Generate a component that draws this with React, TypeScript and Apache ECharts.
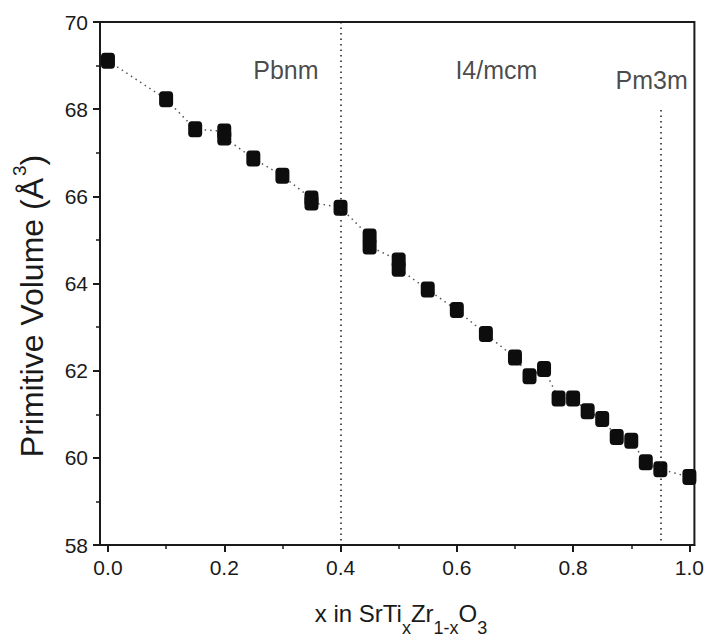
import React, { useEffect, useRef } from "react";
import * as echarts from "echarts";

// x in SrTi_xZr_(1-x)O_3
const compositions = [
  0, 0.1, 0.15, 0.2, 0.2, 0.25, 0.3, 0.35, 0.35, 0.4, 0.45, 0.45, 0.5, 0.5,
  0.55, 0.6, 0.65, 0.7, 0.725, 0.75, 0.775, 0.8, 0.825, 0.85, 0.875, 0.9,
  0.925, 0.95, 1.0,
];
// Primitive volume (Å^3)
const volumes = [
  69.11, 68.23, 67.54, 67.49, 67.35, 66.87, 66.47, 65.95, 65.86, 65.74, 65.08,
  64.85, 64.53, 64.34, 63.86, 63.39, 62.84, 62.3, 61.87, 62.04, 61.36, 61.36,
  61.07, 60.89, 60.48, 60.39, 59.9, 59.74, 59.56,
];

const xTickValues = [0, 0.2, 0.4, 0.6, 0.8, 1.0];
const xMinorTickValues = [0.1, 0.3, 0.5, 0.7, 0.9];

const phaseBoundaryX = [0.4, 0.95];
const phaseBoundaryTop = [70, 67.98];

const phaseNames = ["Pbnm", "I4/mcm", "Pm3m"];
const phaseLabelX = [0.306, 0.668, 0.935];
const phaseLabelY = [68.9, 68.9, 68.67];

const FONT = "'Liberation Sans', Arial, Helvetica, sans-serif";
const INK = "#1a1a1a";

export default function App() {
  const ref = useRef<HTMLDivElement>(null);

  useEffect(() => {
    if (!ref.current) return;
    const chart = echarts.init(ref.current, null, { renderer: "svg" });

    const points = compositions.map((x, i) => [x, volumes[i]]);
    const labelData = phaseNames.map((n, i) => ({
      name: n,
      value: [phaseLabelX[i], phaseLabelY[i]],
    }));
    const boundaryLines = phaseBoundaryX.map((x, i) => [
      { coord: [x, phaseBoundaryTop[i]] },
      { coord: [x, 58] },
    ]);

    const xMin = -0.0137;
    const xMax = 1.0086;

    chart.setOption({
      animation: false,
      backgroundColor: "#ffffff",
      grid: {
        left: 100,
        top: 22,
        width: 597,
        height: 523,
        show: true,
        borderColor: INK,
        borderWidth: 2,
        backgroundColor: "transparent",
      },
      xAxis: [
        {
          type: "value",
          min: xMin,
          max: xMax,
          position: "bottom",
          axisLine: { show: true, onZero: false, lineStyle: { color: INK, width: 2 } },
          axisTick: {
            show: true,
            customValues: xTickValues,
            length: 7,
            lineStyle: { color: INK, width: 2 },
          },
          axisLabel: {
            show: true,
            customValues: xTickValues,
            formatter: (v: number) => v.toFixed(1),
            fontSize: 21,
            fontFamily: FONT,
            color: INK,
            margin: 12,
          },
          splitLine: { show: false },
        },
        {
          type: "value",
          min: xMin,
          max: xMax,
          position: "bottom",
          axisLine: { show: false, onZero: false },
          axisTick: {
            show: true,
            customValues: xMinorTickValues,
            length: 4,
            lineStyle: { color: INK, width: 1.5 },
          },
          axisLabel: { show: false, customValues: xMinorTickValues },
          splitLine: { show: false },
        },
      ],
      yAxis: {
        type: "value",
        min: 58,
        max: 70,
        interval: 2,
        axisLine: { show: true, onZero: false, lineStyle: { color: INK, width: 2 } },
        axisTick: { show: true, length: 7, lineStyle: { color: INK, width: 2 } },
        minorTick: {
          show: true,
          splitNumber: 2,
          length: 4,
          lineStyle: { color: INK, width: 1.5 },
        },
        axisLabel: {
          fontSize: 21,
          fontFamily: FONT,
          color: INK,
          margin: 12,
        },
        splitLine: { show: false },
        minorSplitLine: { show: false },
      },
      series: [
        {
          type: "line",
          xAxisIndex: 0,
          data: points,
          symbol: "roundRect",
          symbolSize: [14, 16],
          itemStyle: { color: "#0d0d0d" },
          lineStyle: { color: "#555555", width: 1.5, type: [1.5, 4] },
          z: 3,
        },
        {
          type: "scatter",
          xAxisIndex: 0,
          data: labelData,
          symbolSize: 1,
          itemStyle: { color: "rgba(0,0,0,0)" },
          label: {
            show: true,
            position: "inside",
            formatter: (p: any) => p.name,
            fontSize: 25,
            fontFamily: FONT,
            color: INK,
          },
          markLine: {
            silent: true,
            symbol: ["none", "none"],
            label: { show: false },
            lineStyle: { color: INK, width: 1.5, type: [1.5, 4] },
            data: boundaryLines,
          },
          z: 2,
        },
      ],
      graphic: [
        {
          type: "text",
          x: 401,
          y: 628,
          style: {
            text: "{a|x in SrTi}{s|x}{a|Zr}{s|1-x}{a|O}{s|3}",
            align: "center",
            verticalAlign: "middle",
            fill: INK,
            rich: {
              a: { fontSize: 24, fontFamily: FONT, lineHeight: 28, verticalAlign: "top", fill: INK },
              s: { fontSize: 18, fontFamily: FONT, lineHeight: 54, verticalAlign: "middle", fill: INK },
            },
          },
        },
        {
          type: "text",
          x: 29,
          y: 306,
          rotation: Math.PI / 2,
          style: {
            text: "{a|Primitive Volume (Å}{s|3}{a|)}",
            align: "center",
            verticalAlign: "middle",
            fill: INK,
            rich: {
              a: { fontSize: 32, fontFamily: FONT, lineHeight: 38, verticalAlign: "bottom", fill: INK },
              s: { fontSize: 19, fontFamily: FONT, lineHeight: 20, verticalAlign: "top", fill: INK, padding: [0, 0, 0, 2] },
            },
          },
        },
      ],
    });

    return () => chart.dispose();
  }, []);

  return (
    <div
      ref={ref}
      style={{ position: "fixed", left: 0, top: 0, width: 707, height: 643, background: "#fff" }}
    />
  );
}
